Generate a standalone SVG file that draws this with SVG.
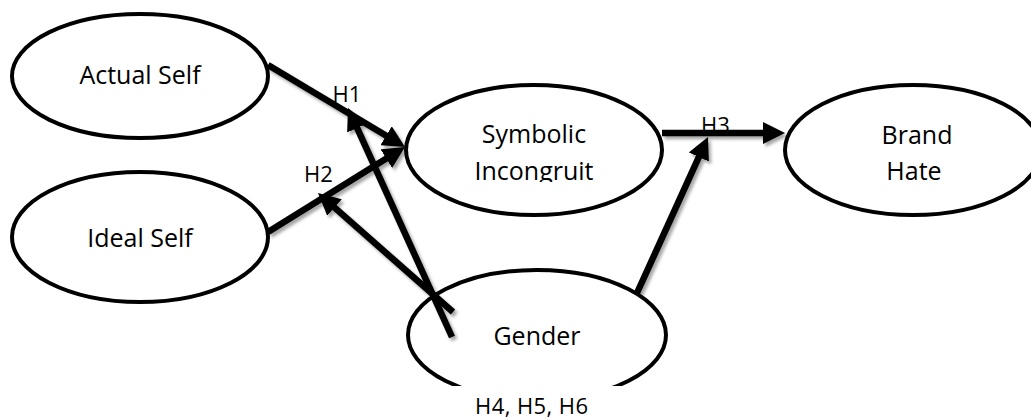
<svg xmlns="http://www.w3.org/2000/svg" width="1031" height="419" viewBox="0 0 1031 419">
  <style>
    .node { fill: #ffffff; stroke: #000000; stroke-width: 4; }
    .label { font-family: "Open Sans", "Noto Sans", "Liberation Sans", sans-serif; font-size: 25px; fill: #000000; text-anchor: middle; }
    .hyp { font-family: "Open Sans", "Noto Sans", "Liberation Sans", sans-serif; font-size: 22px; fill: #000000; text-anchor: middle; }
    .link { stroke: #000000; stroke-width: 6.5; fill: none; marker-end: url(#arrow); }
  </style>
  <defs>
    <marker id="arrow" markerUnits="userSpaceOnUse" markerWidth="22" markerHeight="22" viewBox="0 0 22 22" refX="10" refY="11" orient="auto">
      <path d="M0,0 L22,11 L0,22 Z" fill="#000000"/>
    </marker>
    <filter id="shadow" x="-20%" y="-20%" width="140%" height="140%">
      <feDropShadow dx="2.5" dy="3" stdDeviation="1.5" flood-color="#000000" flood-opacity="0.35"/>
    </filter>
    <clipPath id="symClip">
      <rect x="400" y="100" width="270" height="82"/>
    </clipPath>
  </defs>

  <rect width="1031" height="419" fill="#ffffff"/>

  <g id="actual-self">
    <ellipse class="node" cx="140" cy="76" rx="128" ry="62"/>
    <text class="label" x="140" y="84">Actual Self</text>
  </g>

  <g id="ideal-self">
    <ellipse class="node" cx="140" cy="237" rx="128" ry="65"/>
    <text class="label" x="140" y="247">Ideal Self</text>
  </g>

  <g id="symbolic-incongruity">
    <ellipse class="node" cx="534" cy="150" rx="128" ry="65"/>
    <text class="label" x="534" y="143">Symbolic</text>
    <text class="label" x="534" y="180" clip-path="url(#symClip)">Incongruit</text>
  </g>

  <g id="brand-hate">
    <ellipse class="node" cx="913" cy="150" rx="128" ry="65"/>
    <text class="label" x="917" y="144">Brand</text>
    <text class="label" x="914" y="180">Hate</text>
  </g>

  <g id="gender">
    <ellipse class="node" cx="537" cy="335" rx="129" ry="65"/>
    <rect x="440" y="386" width="190" height="33" fill="#ffffff"/>
    <text class="label" x="537" y="345">Gender</text>
    <text class="hyp" x="531.5" y="414" font-size="23" textLength="113">H4, H5, H6</text>
  </g>

  <g id="hypothesis-labels">
    <text class="hyp" x="347" y="102">H1</text>
    <text class="hyp" x="318.5" y="182">H2</text>
    <text class="hyp" x="715.5" y="133">H3</text>
  </g>

  <g id="connectors" filter="url(#shadow)">
    <line class="link" x1="268" y1="65" x2="394.7" y2="140.8"/>
    <line class="link" x1="268" y1="232" x2="394.8" y2="153.3"/>
    <line class="link" x1="452" y1="337" x2="353" y2="118.9"/>
    <line class="link" x1="453" y1="312" x2="327" y2="200.9"/>
    <line class="link" x1="662" y1="133" x2="773" y2="133"/>
    <line class="link" x1="637" y1="293" x2="703" y2="147.9"/>
  </g>
</svg>
